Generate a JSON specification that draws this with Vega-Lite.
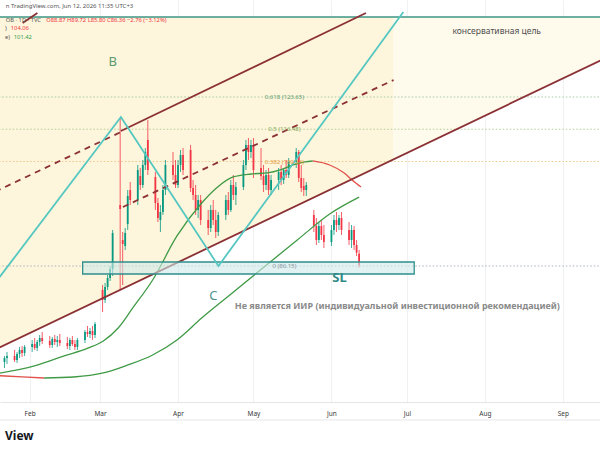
{
  "$schema": "https://vega.github.io/schema/vega-lite/v6.json",
  "width": 600,
  "height": 402,
  "autosize": {"type": "none"},
  "padding": {"left": 0, "top": 0, "right": 0, "bottom": 48},
  "background": "#ffffff",
  "config": {"view": {"stroke": null}, "font": "Noto Sans"},
  "encoding": {
    "x": {
      "field": "t", "type": "temporal", "title": null,
      "scale": {"type": "utc", "nice": false, "domain": [{"year": 2026, "month": 1, "date": 22, "hours": 5, "utc": true}, {"year": 2026, "month": 9, "date": 13, "hours": 19, "utc": true}]},
      "axis": {
        "values": [{"year": 2026, "month": 2, "date": 1, "utc": true}, {"year": 2026, "month": 3, "date": 1, "utc": true}, {"year": 2026, "month": 4, "date": 1, "utc": true}, {"year": 2026, "month": 5, "date": 1, "utc": true}, {"year": 2026, "month": 6, "date": 1, "utc": true}, {"year": 2026, "month": 7, "date": 1, "utc": true}, {"year": 2026, "month": 8, "date": 1, "utc": true}, {"year": 2026, "month": 9, "date": 1, "utc": true}],
        "format": "%b", "labelFontSize": 6.5, "labelColor": "#3a3a3a", "ticks": false, "tickSize": 0,
        "labelPadding": 8, "domainColor": "#e3e5e8", "grid": true, "gridColor": "#eff1f3", "labelFont": "Noto Sans"
      }
    },
    "y": {"field": "p", "type": "quantitative", "scale": {"domain": [55.97, 145.17], "nice": false, "zero": false}, "axis": null}
  },
  "layer": [
    {"data": {"values": [{"t": "2026-01-18T07:00Z", "p": 141.4, "p2": 67.58}, {"t": "2026-06-25T17:00Z", "p": 141.4, "p2": 109.82}]},
     "mark": {"type": "area", "color": "#fdf5dc"}, "encoding": {"y2": {"field": "p2"}}},
    {"data": {"values": [{"t": "2026-06-25T17:00Z", "p": 141.4, "p2": 109.82}, {"t": "2026-09-17T17:00Z", "p": 141.4, "p2": 132.23}]},
     "mark": {"type": "area", "color": "#fefaec"}, "encoding": {"y2": {"field": "p2"}}},
    {"data": {"values": [{"t": "2026-01-10", "p": 51.98}, {"t": "2026-09-25", "p": 51.98}]},
     "mark": {"type": "line", "color": "#e6e7ea", "strokeWidth": 1}, "encoding": {}},
    {"data": {"values": [{"t": "2026-01-10", "p": 141.4}, {"t": "2026-09-25", "p": 141.4}]},
     "mark": {"type": "line", "color": "#3e9486", "strokeWidth": 1.5}, "encoding": {}},
    {"data": {"values": [{"t": "2026-01-10", "p": 123.65}, {"t": "2026-09-25", "p": 123.65}]},
     "mark": {"type": "line", "color": "#a3cca8", "strokeWidth": 1, "strokeDash": [1.5, 2]}, "encoding": {}},
    {"data": {"values": [{"t": "2026-01-10", "p": 116.49}, {"t": "2026-09-25", "p": 116.49}]},
     "mark": {"type": "line", "color": "#b3cf96", "strokeWidth": 1, "strokeDash": [1.5, 2]}, "encoding": {}},
    {"data": {"values": [{"t": "2026-01-10", "p": 109.33}, {"t": "2026-09-25", "p": 109.33}]},
     "mark": {"type": "line", "color": "#edc888", "strokeWidth": 1, "strokeDash": [1.5, 2]}, "encoding": {}},
    {"data": {"values": [{"t": "2026-01-10", "p": 86.15}, {"t": "2026-09-25", "p": 86.15}]},
     "mark": {"type": "line", "color": "#aab4bd", "strokeWidth": 1, "strokeDash": [1.5, 2]}, "encoding": {}},
    {"data": {"values": [
      {"t": "2026-01-22", "o": 64.85, "h": 66.18, "l": 63.52, "c": 65.74},
      {"t": "2026-01-23", "o": 65.74, "h": 67.07, "l": 64.41, "c": 66.18},
      {"t": "2026-01-26", "o": 66.18, "h": 67.51, "l": 64.85, "c": 65.29},
      {"t": "2026-01-27", "o": 65.29, "h": 67.07, "l": 64.63, "c": 66.62},
      {"t": "2026-01-28", "o": 66.62, "h": 68.18, "l": 65.74, "c": 67.51},
      {"t": "2026-01-29", "o": 67.51, "h": 68.40, "l": 65.96, "c": 66.85},
      {"t": "2026-01-30", "o": 66.85, "h": 68.62, "l": 66.18, "c": 68.18},
      {"t": "2026-02-02", "o": 68.18, "h": 69.73, "l": 67.07, "c": 68.84},
      {"t": "2026-02-03", "o": 68.84, "h": 70.17, "l": 67.51, "c": 67.96},
      {"t": "2026-02-04", "o": 67.96, "h": 69.73, "l": 67.29, "c": 69.29},
      {"t": "2026-02-05", "o": 69.29, "h": 70.84, "l": 68.40, "c": 70.17},
      {"t": "2026-02-06", "o": 70.17, "h": 71.51, "l": 68.84, "c": 69.51},
      {"t": "2026-02-09", "o": 69.51, "h": 70.62, "l": 67.96, "c": 68.62},
      {"t": "2026-02-10", "o": 68.62, "h": 70.40, "l": 67.96, "c": 69.95},
      {"t": "2026-02-11", "o": 69.95, "h": 70.84, "l": 68.62, "c": 69.29},
      {"t": "2026-02-12", "o": 69.29, "h": 70.62, "l": 68.18, "c": 69.73},
      {"t": "2026-02-13", "o": 69.73, "h": 71.06, "l": 68.40, "c": 69.06},
      {"t": "2026-02-16", "o": 69.06, "h": 70.40, "l": 67.73, "c": 68.40},
      {"t": "2026-02-17", "o": 68.40, "h": 70.17, "l": 67.51, "c": 69.73},
      {"t": "2026-02-18", "o": 69.73, "h": 70.62, "l": 68.40, "c": 68.84},
      {"t": "2026-02-19", "o": 68.84, "h": 69.73, "l": 67.51, "c": 68.18},
      {"t": "2026-02-20", "o": 68.18, "h": 70.17, "l": 67.51, "c": 69.73},
      {"t": "2026-02-23", "o": 69.73, "h": 71.95, "l": 69.06, "c": 71.51},
      {"t": "2026-02-24", "o": 71.51, "h": 72.84, "l": 70.40, "c": 71.06},
      {"t": "2026-02-25", "o": 71.06, "h": 72.39, "l": 70.17, "c": 71.73},
      {"t": "2026-02-26", "o": 71.73, "h": 72.84, "l": 69.73, "c": 70.84},
      {"t": "2026-02-27", "o": 70.84, "h": 73.72, "l": 70.17, "c": 73.28},
      {"t": "2026-03-02", "o": 80.82, "h": 81.93, "l": 75.94, "c": 78.61},
      {"t": "2026-03-03", "o": 78.61, "h": 82.38, "l": 77.94, "c": 81.49},
      {"t": "2026-03-04", "o": 81.49, "h": 84.15, "l": 80.82, "c": 83.49},
      {"t": "2026-03-05", "o": 83.49, "h": 86.15, "l": 82.82, "c": 85.48},
      {"t": "2026-03-06", "o": 85.48, "h": 94.14, "l": 83.93, "c": 93.47},
      {"t": "2026-03-09", "o": 99.68, "h": 118.99, "l": 80.82, "c": 98.80},
      {"t": "2026-03-10", "o": 91.92, "h": 93.69, "l": 81.93, "c": 91.03},
      {"t": "2026-03-11", "o": 90.59, "h": 94.58, "l": 89.70, "c": 93.47},
      {"t": "2026-03-12", "o": 95.47, "h": 103.01, "l": 94.14, "c": 101.68},
      {"t": "2026-03-13", "o": 103.01, "h": 104.79, "l": 99.68, "c": 100.79},
      {"t": "2026-03-16", "o": 100.79, "h": 108.56, "l": 99.68, "c": 107.45},
      {"t": "2026-03-17", "o": 106.12, "h": 107.89, "l": 103.01, "c": 104.12},
      {"t": "2026-03-18", "o": 104.12, "h": 109.67, "l": 103.46, "c": 108.56},
      {"t": "2026-03-19", "o": 108.56, "h": 112.33, "l": 107.45, "c": 111.44},
      {"t": "2026-03-20", "o": 114.11, "h": 118.54, "l": 106.34, "c": 107.45},
      {"t": "2026-03-23", "o": 105.90, "h": 107.01, "l": 98.58, "c": 100.13},
      {"t": "2026-03-24", "o": 100.13, "h": 101.24, "l": 95.91, "c": 96.80},
      {"t": "2026-03-25", "o": 96.36, "h": 99.68, "l": 93.69, "c": 98.13},
      {"t": "2026-03-26", "o": 98.13, "h": 104.12, "l": 97.47, "c": 103.01},
      {"t": "2026-03-27", "o": 103.01, "h": 109.67, "l": 101.90, "c": 108.56},
      {"t": "2026-03-30", "o": 108.56, "h": 111.44, "l": 105.23, "c": 106.34},
      {"t": "2026-03-31", "o": 106.34, "h": 109.67, "l": 103.46, "c": 104.12},
      {"t": "2026-04-01", "o": 104.12, "h": 109.67, "l": 103.46, "c": 108.56},
      {"t": "2026-04-02", "o": 108.56, "h": 111.89, "l": 107.01, "c": 110.78},
      {"t": "2026-04-03", "o": 110.78, "h": 112.33, "l": 106.34, "c": 107.45},
      {"t": "2026-04-06", "o": 111.89, "h": 113.00, "l": 102.57, "c": 103.46},
      {"t": "2026-04-07", "o": 103.46, "h": 105.23, "l": 100.79, "c": 101.90},
      {"t": "2026-04-08", "o": 101.90, "h": 104.12, "l": 97.47, "c": 98.58},
      {"t": "2026-04-09", "o": 98.58, "h": 101.90, "l": 96.80, "c": 100.79},
      {"t": "2026-04-10", "o": 100.79, "h": 101.90, "l": 95.25, "c": 96.36},
      {"t": "2026-04-13", "o": 96.36, "h": 98.58, "l": 93.03, "c": 94.58},
      {"t": "2026-04-14", "o": 94.58, "h": 99.68, "l": 93.69, "c": 98.58},
      {"t": "2026-04-15", "o": 98.58, "h": 100.79, "l": 95.25, "c": 96.36},
      {"t": "2026-04-16", "o": 96.36, "h": 98.58, "l": 92.36, "c": 93.69},
      {"t": "2026-04-17", "o": 93.69, "h": 98.13, "l": 92.81, "c": 97.47},
      {"t": "2026-04-20", "o": 97.47, "h": 101.90, "l": 96.36, "c": 100.79},
      {"t": "2026-04-21", "o": 100.79, "h": 102.57, "l": 97.47, "c": 98.58},
      {"t": "2026-04-22", "o": 98.58, "h": 105.23, "l": 98.13, "c": 104.12},
      {"t": "2026-04-23", "o": 104.12, "h": 106.34, "l": 100.79, "c": 101.90},
      {"t": "2026-04-24", "o": 101.90, "h": 104.79, "l": 99.68, "c": 103.68},
      {"t": "2026-04-27", "o": 103.68, "h": 109.67, "l": 103.01, "c": 108.56},
      {"t": "2026-04-28", "o": 108.56, "h": 114.11, "l": 107.45, "c": 113.00},
      {"t": "2026-04-29", "o": 113.00, "h": 114.55, "l": 109.67, "c": 111.44},
      {"t": "2026-04-30", "o": 111.44, "h": 114.11, "l": 110.11, "c": 113.00},
      {"t": "2026-05-01", "o": 113.00, "h": 114.55, "l": 105.68, "c": 107.45},
      {"t": "2026-05-04", "o": 107.89, "h": 112.33, "l": 105.23, "c": 106.12},
      {"t": "2026-05-05", "o": 106.12, "h": 108.56, "l": 102.57, "c": 104.12},
      {"t": "2026-05-06", "o": 104.12, "h": 107.45, "l": 103.01, "c": 106.34},
      {"t": "2026-05-07", "o": 106.34, "h": 107.89, "l": 101.90, "c": 103.01},
      {"t": "2026-05-08", "o": 103.01, "h": 106.34, "l": 101.90, "c": 105.23},
      {"t": "2026-05-11", "o": 105.23, "h": 107.89, "l": 103.01, "c": 107.01},
      {"t": "2026-05-12", "o": 107.01, "h": 108.56, "l": 104.12, "c": 105.23},
      {"t": "2026-05-13", "o": 105.23, "h": 107.89, "l": 104.34, "c": 107.45},
      {"t": "2026-05-14", "o": 107.45, "h": 109.67, "l": 105.68, "c": 106.34},
      {"t": "2026-05-15", "o": 106.34, "h": 110.11, "l": 105.68, "c": 109.23},
      {"t": "2026-05-18", "o": 109.23, "h": 112.33, "l": 107.89, "c": 111.44},
      {"t": "2026-05-19", "o": 111.44, "h": 111.89, "l": 104.79, "c": 105.68},
      {"t": "2026-05-20", "o": 105.68, "h": 108.56, "l": 102.57, "c": 103.46},
      {"t": "2026-05-21", "o": 103.90, "h": 105.68, "l": 101.68, "c": 103.01},
      {"t": "2026-05-22", "o": 103.01, "h": 104.79, "l": 101.68, "c": 104.12},
      {"t": "2026-05-25", "o": 97.47, "h": 98.58, "l": 93.69, "c": 95.03},
      {"t": "2026-05-26", "o": 95.03, "h": 96.80, "l": 90.81, "c": 91.92},
      {"t": "2026-05-27", "o": 91.92, "h": 95.91, "l": 91.25, "c": 95.03},
      {"t": "2026-05-28", "o": 95.03, "h": 96.36, "l": 91.92, "c": 93.03},
      {"t": "2026-05-29", "o": 93.03, "h": 95.25, "l": 90.14, "c": 91.48},
      {"t": "2026-06-01", "o": 91.48, "h": 95.25, "l": 90.59, "c": 94.14},
      {"t": "2026-06-02", "o": 94.14, "h": 97.47, "l": 93.03, "c": 96.36},
      {"t": "2026-06-03", "o": 96.36, "h": 98.13, "l": 93.69, "c": 95.25},
      {"t": "2026-06-04", "o": 95.25, "h": 97.47, "l": 94.14, "c": 96.80},
      {"t": "2026-06-05", "o": 96.80, "h": 98.13, "l": 93.03, "c": 94.14},
      {"t": "2026-06-08", "o": 94.14, "h": 95.91, "l": 90.81, "c": 91.92},
      {"t": "2026-06-09", "o": 91.92, "h": 95.25, "l": 90.14, "c": 94.14},
      {"t": "2026-06-10", "o": 94.14, "h": 95.03, "l": 89.70, "c": 90.81},
      {"t": "2026-06-11", "o": 90.81, "h": 91.92, "l": 88.37, "c": 89.12},
      {"t": "2026-06-12", "o": 88.87, "h": 89.72, "l": 85.80, "c": 86.36}
    ]},
     "layer": [
       {"mark": {"type": "rule", "strokeWidth": 0.8},
        "encoding": {
          "y": {"field": "l", "type": "quantitative", "scale": {"domain": [55.97, 145.17], "nice": false, "zero": false}, "axis": null},
          "y2": {"field": "h"},
          "color": {"condition": {"test": "datum.c >= datum.o", "value": "#089981"}, "value": "#f23645"}}},
       {"mark": {"type": "bar", "width": 1.8},
        "encoding": {
          "y": {"field": "o", "type": "quantitative", "scale": {"domain": [55.97, 145.17], "nice": false, "zero": false}, "axis": null},
          "y2": {"field": "c"},
          "color": {"condition": {"test": "datum.c >= datum.o", "value": "#089981"}, "value": "#f23645"}}}
     ]},
    {"data": {"values": [{"t": "2026-01-18T07:00Z", "p": 61.85}, {"t": "2026-01-22T05:00Z", "p": 61.74}, {"t": "2026-02-06T19:00Z", "p": 61.30}]},
     "mark": {"type": "line", "color": "#e0524a", "strokeWidth": 1.3, "interpolate": "monotone"}, "encoding": {}},
    {"data": {"values": [{"t": "2026-02-06T19:00Z", "p": 61.30}, {"t": "2026-02-18T14:00Z", "p": 61.52}, {"t": "2026-03-02T07:00Z", "p": 62.41}, {"t": "2026-03-12T02:00Z", "p": 64.19}, {"t": "2026-03-21T22:00Z", "p": 66.40}, {"t": "2026-03-31T14:00Z", "p": 69.73}, {"t": "2026-04-10T10:00Z", "p": 74.61}, {"t": "2026-04-22T02:00Z", "p": 79.94}, {"t": "2026-05-04T17:00Z", "p": 85.70}, {"t": "2026-05-18T10:00Z", "p": 91.92}, {"t": "2026-05-31T07:00Z", "p": 97.69}, {"t": "2026-06-12T00:00Z", "p": 101.42}]},
     "mark": {"type": "line", "color": "#3f9a45", "strokeWidth": 1.3, "interpolate": "monotone"}, "encoding": {}},
    {"data": {"values": [{"t": "2026-01-18T07:00Z", "p": 62.19}, {"t": "2026-02-02T22:00Z", "p": 63.96}, {"t": "2026-02-14T17:00Z", "p": 66.18}, {"t": "2026-02-24T10:00Z", "p": 67.96}, {"t": "2026-03-02T07:00Z", "p": 69.51}, {"t": "2026-03-08T05:00Z", "p": 72.39}, {"t": "2026-03-14T00:00Z", "p": 76.83}, {"t": "2026-03-21T22:00Z", "p": 83.04}, {"t": "2026-03-31T14:00Z", "p": 92.81}, {"t": "2026-04-10T10:00Z", "p": 100.13}, {"t": "2026-04-16T07:00Z", "p": 103.46}, {"t": "2026-04-22T22:00Z", "p": 105.90}, {"t": "2026-04-30T00:00Z", "p": 106.56}, {"t": "2026-05-06T14:00Z", "p": 106.79}, {"t": "2026-05-11T17:00Z", "p": 107.45}, {"t": "2026-05-16T19:00Z", "p": 108.56}, {"t": "2026-05-21T12:00Z", "p": 109.23}, {"t": "2026-05-24T14:00Z", "p": 109.45}]},
     "mark": {"type": "line", "color": "#3f9a45", "strokeWidth": 1.3, "interpolate": "monotone"}, "encoding": {}},
    {"data": {"values": [{"t": "2026-05-24T14:00Z", "p": 109.45}, {"t": "2026-05-31T07:00Z", "p": 108.56}, {"t": "2026-06-06T02:00Z", "p": 106.79}, {"t": "2026-06-09T05:00Z", "p": 105.23}, {"t": "2026-06-12T18:00Z", "p": 103.68}]},
     "mark": {"type": "line", "color": "#e0524a", "strokeWidth": 1.3, "interpolate": "monotone"}, "encoding": {}},
    {"data": {"values": [{"t": "2026-01-18T07:00Z", "p": 102.64}, {"t": "2026-03-09T07:00Z", "p": 115.88}]},
     "mark": {"type": "line", "color": "#8b3034", "strokeWidth": 1.8, "strokeDash": [6, 5]}, "encoding": {}},
    {"data": {"values": [{"t": "2026-03-10T02:00Z", "p": 99.24}, {"t": "2026-06-25T17:00Z", "p": 127.42}]},
     "mark": {"type": "line", "color": "#8b3034", "strokeWidth": 1.8, "strokeDash": [6, 5]}, "encoding": {}},
    {"data": {"values": [{"t": "2026-03-09T07:00Z", "p": 116.10}, {"t": "2026-06-14T17:00Z", "p": 142.29}]},
     "mark": {"type": "line", "color": "#8b3034", "strokeWidth": 1.8}, "encoding": {}},
    {"data": {"values": [{"t": "2026-01-18T07:00Z", "p": 67.58}, {"t": "2026-09-17T17:00Z", "p": 132.23}]},
     "mark": {"type": "line", "color": "#8b3034", "strokeWidth": 1.8}, "encoding": {}},
    {"data": {"values": [{"t": "2026-01-29T05:00Z", "p": 140.07}, {"t": "2026-02-04T02:00Z", "p": 142.29}]},
     "mark": {"type": "line", "color": "#8b3034", "strokeWidth": 1.8}, "encoding": {}},
    {"data": {"values": [{"t": "2026-02-22T02:00Z", "t2": "2026-07-03T22:00Z", "p": 87.04, "p2": 84.37}]},
     "mark": {"type": "rect", "fill": "#cfe9ea", "fillOpacity": 0.6, "stroke": "#2f8f8c", "strokeWidth": 1.3},
     "encoding": {"x2": {"field": "t2"}, "y2": {"field": "p2"}}},
    {"data": {"values": [{"t": "2026-01-18T07:00Z", "p": 82.38}, {"t": "2026-03-09T07:00Z", "p": 119.21}, {"t": "2026-04-17T02:00Z", "p": 86.15}, {"t": "2026-06-29T14:00Z", "p": 142.51}]},
     "mark": {"type": "line", "color": "#55c7c1", "strokeWidth": 1.8}, "encoding": {}},
    {"data": {"values": [{"t": "2026-05-13T07:00Z", "p": 123.65, "label": "0.618 (123.65)"}]},
     "mark": {"type": "text", "fontSize": 6, "color": "#5f9f72", "align": "center", "baseline": "middle"}, "encoding": {"text": {"field": "label"}}},
    {"data": {"values": [{"t": "2026-05-13T07:00Z", "p": 116.49, "label": "0.5 (116.48)"}]},
     "mark": {"type": "text", "fontSize": 6, "color": "#86ab5e", "align": "center", "baseline": "middle"}, "encoding": {"text": {"field": "label"}}},
    {"data": {"values": [{"t": "2026-05-13T07:00Z", "p": 109.33, "label": "0.382 (109.33)"}]},
     "mark": {"type": "text", "fontSize": 6, "color": "#e39b3a", "align": "center", "baseline": "middle"}, "encoding": {"text": {"field": "label"}}},
    {"data": {"values": [{"t": "2026-05-13T07:00Z", "p": 86.15, "label": "0 (86.15)"}]},
     "mark": {"type": "text", "fontSize": 6, "color": "#8a96a0", "align": "center", "baseline": "middle"}, "encoding": {"text": {"field": "label"}}},
    {"data": {"values": [{"t": "2026-03-06T00:00Z", "p": 131.41, "label": "B"}]},
     "mark": {"type": "text", "fontSize": 13, "color": "#5b9a70", "align": "center", "baseline": "middle"}, "encoding": {"text": {"field": "label"}}},
    {"data": {"values": [{"t": "2026-04-15T02:00Z", "p": 79.49, "label": "C"}]},
     "mark": {"type": "text", "fontSize": 13, "color": "#4f9290", "align": "center", "baseline": "middle"}, "encoding": {"text": {"field": "label"}}},
    {"data": {"values": [{"t": "2026-06-04T05:00Z", "p": 83.49, "label": "SL"}]},
     "mark": {"type": "text", "fontSize": 13, "fontWeight": "bold", "color": "#2f8a86", "align": "center", "baseline": "middle"}, "encoding": {"text": {"field": "label"}}},
    {"data": {"values": [{"t": "2026-08-05T17:00Z", "p": 138.29, "label": "консервативная цель"}]},
     "mark": {"type": "text", "fontSize": 8.5, "color": "#4f4f4f", "align": "center", "baseline": "middle"}, "encoding": {"text": {"field": "label"}}},
    {"data": {"values": [{"t": "2026-06-27T05:00Z", "p": 77.27, "label": "Не является ИИР (индивидуальной инвестиционной рекомендацией)"}]},
     "mark": {"type": "text", "fontSize": 9, "fontWeight": "bold", "color": "#8a8a8a", "align": "center", "baseline": "middle"}, "encoding": {"text": {"field": "label"}}},
    {"data": {"values": [{"t": "2026-01-22T12:00Z", "p": 143.84, "label": "n TradingView.com, Jun 12, 2026 11:35 UTC+3"}]},
     "mark": {"type": "text", "fontSize": 6, "color": "#555555", "align": "left", "baseline": "middle"}, "encoding": {"text": {"field": "label"}}},
    {"data": {"values": [{"t": "2026-01-22T12:00Z", "p": 140.73, "label": "OB · 1D · TVC"}]},
     "mark": {"type": "text", "fontSize": 5.8, "color": "#555555", "align": "left", "baseline": "middle"}, "encoding": {"text": {"field": "label"}}},
    {"data": {"values": [{"t": "2026-02-07T14:00Z", "p": 140.73, "label": "O88.87 H89.72 L85.80 C86.36 −2.76 (−3.12%)"}]},
     "mark": {"type": "text", "fontSize": 5.8, "color": "#f23645", "align": "left", "baseline": "middle"}, "encoding": {"text": {"field": "label"}}},
    {"data": {"values": [{"t": "2026-01-22T05:00Z", "p": 138.96, "label": ")"}, {"t": "2026-01-22T05:00Z", "p": 136.96, "label": "e)"}]},
     "mark": {"type": "text", "fontSize": 5.8, "color": "#555555", "align": "left", "baseline": "middle"}, "encoding": {"text": {"field": "label"}}},
    {"data": {"values": [{"t": "2026-01-24T12:00Z", "p": 138.96, "label": "104.06"}]},
     "mark": {"type": "text", "fontSize": 5.8, "color": "#f23645", "align": "left", "baseline": "middle"}, "encoding": {"text": {"field": "label"}}},
    {"data": {"values": [{"t": "2026-01-25T17:00Z", "p": 136.96, "label": "101.42"}]},
     "mark": {"type": "text", "fontSize": 5.8, "color": "#2e9e4f", "align": "left", "baseline": "middle"}, "encoding": {"text": {"field": "label"}}},
    {"data": {"values": [{"t": "2026-01-22T05:00Z", "p": 48.43, "label": "View"}]},
     "mark": {"type": "text", "fontSize": 12, "fontWeight": "bold", "color": "#131722", "align": "left", "baseline": "middle"}, "encoding": {"text": {"field": "label"}}}
  ]
}
